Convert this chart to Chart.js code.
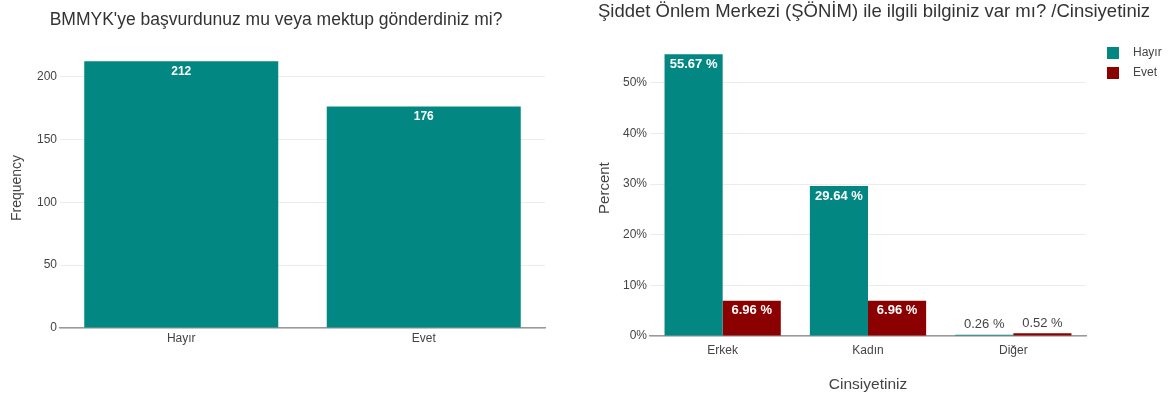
<!DOCTYPE html>
<html>
<head>
<meta charset="utf-8">
<script src="https://cdn.jsdelivr.net/npm/chart.js@4.4.1/dist/chart.umd.min.js"></script>
<style>
  body { margin: 0; background: #fff; }
  #izquierda { position: absolute; left: 0; top: 0; width: 560px; height: 401px; }
  #derecha { position: absolute; left: 580px; top: 0; width: 588px; height: 401px; }
</style>
</head>
<body>
<div id="izquierda"><canvas id="grafica1"></canvas></div>
<div id="derecha"><canvas id="grafica2"></canvas></div>
<script>
// Datos
const respuestas = ["Hayır", "Evet"];
const frecuencias = [212, 176];
const generos = ["Erkek", "Kadın", "Diğer"];
const porcentajeHayir = [55.67, 29.64, 0.26];
const porcentajeEvet = [6.96, 6.96, 0.52];
const ticksFrecuencia = [0, 50, 100, 150, 200];
const ticksPorcentaje = [0, 10, 20, 30, 40, 50];

const FUENTE = '"Liberation Sans", Arial, sans-serif';
const TEAL = "#028783";
const ROJO = "#8B0000";
Chart.defaults.font.family = FUENTE;
Chart.defaults.color = "#444";

// etiquetas de valor dentro / encima de las barras
const etiquetasBarras = {
  id: "etiquetasBarras",
  afterDatasetsDraw(chart, args, opts) {
    const ctx = chart.ctx;
    chart.data.datasets.forEach((ds, i) => {
      chart.getDatasetMeta(i).data.forEach((barra, j) => {
        const valor = ds.data[j];
        const texto = valor.toFixed(opts.decimales) + opts.sufijo;
        const alto = barra.base - barra.y;
        ctx.save();
        ctx.textAlign = "center";
        ctx.textBaseline = "middle";
        if (alto > 22) {
          ctx.fillStyle = "#fff";
          ctx.font = "bold " + opts.tamano + "px " + FUENTE;
          ctx.fillText(texto, barra.x, barra.y + 10);
        } else {
          ctx.fillStyle = "#444";
          ctx.font = opts.tamano + "px " + FUENTE;
          ctx.fillText(texto, barra.x, barra.y - 10);
        }
        ctx.restore();
      });
    });
  },
};

// leyenda a la derecha
const leyendaLateral = {
  id: "leyendaLateral",
  afterDraw(chart) {
    const ctx = chart.ctx;
    const x = chart.chartArea.right + 21;
    chart.data.datasets.forEach((ds, i) => {
      const y = 53 + i * 20;
      ctx.save();
      ctx.fillStyle = ds.backgroundColor;
      ctx.fillRect(x, y - 6, 12, 12);
      ctx.fillStyle = "#444";
      ctx.font = "12px " + FUENTE;
      ctx.textAlign = "left";
      ctx.textBaseline = "middle";
      ctx.fillText(ds.label, x + 26, y);
      ctx.restore();
    });
  },
};

function ejeY(ancho, ticks, titulo, tamTitulo, paddingTitulo, sufijo, maximo) {
  return {
    min: 0,
    max: maximo,
    afterFit(scale) { scale.width = ancho; },
    afterBuildTicks(scale) { scale.ticks = ticks.map((v) => ({ value: v })); },
    border: { display: false },
    grid: { color: "#ececec", drawTicks: false },
    ticks: {
      font: { size: 12 },
      color: "#444",
      padding: 3,
      callback: (v) => v + sufijo,
    },
    title: {
      display: true,
      text: titulo,
      font: { size: tamTitulo },
      color: "#444",
      padding: { top: paddingTitulo, bottom: 0 },
    },
  };
}

function ejeX(alto, padding) {
  return {
    afterFit(scale) { scale.height = alto; },
    grid: { display: false, drawTicks: false },
    border: { display: true, color: "#999", width: 1.5 },
    ticks: { font: { size: 12 }, color: "#444", padding: padding },
  };
}

new Chart(document.getElementById("grafica1"), {
  type: "bar",
  data: {
    labels: respuestas,
    datasets: [{ label: "Frequency", data: frecuencias, backgroundColor: TEAL }],
  },
  options: {
    responsive: true,
    maintainAspectRatio: false,
    animation: false,
    layout: { padding: { left: 7, right: 15, top: 0, bottom: 0 } },
    datasets: { bar: { categoryPercentage: 0.8, barPercentage: 1 } },
    plugins: {
      legend: { display: false },
      tooltip: { enabled: false },
      title: {
        display: true,
        text: "BMMYK'ye başvurdunuz mu veya mektup gönderdiniz mi?",
        font: { size: 17.5, weight: "normal" },
        color: "#333",
        padding: { top: 10, bottom: 17 },
      },
      etiquetasBarras: { decimales: 0, sufijo: "", tamano: 12 },
    },
    scales: {
      x: ejeX(73, 3),
      y: ejeY(53, ticksFrecuencia, "Frequency", 14, 2, "", Math.max(...frecuencias) * 1.05),
    },
  },
  plugins: [etiquetasBarras],
});

new Chart(document.getElementById("grafica2"), {
  type: "bar",
  data: {
    labels: generos,
    datasets: [
      { label: "Hayır", data: porcentajeHayir, backgroundColor: TEAL },
      { label: "Evet", data: porcentajeEvet, backgroundColor: ROJO },
    ],
  },
  options: {
    responsive: true,
    maintainAspectRatio: false,
    animation: false,
    layout: { padding: 0 },
    datasets: { bar: { categoryPercentage: 0.8, barPercentage: 1 } },
    plugins: {
      legend: { display: false },
      tooltip: { enabled: false },
      title: {
        display: true,
        text: "Şiddet Önlem Merkezi (ŞÖNİM) ile ilgili bilginiz var mı? /Cinsiyetiniz",
        font: { size: 18.5, weight: "normal" },
        color: "#333",
        padding: { top: 1, bottom: 17 },
      },
      etiquetasBarras: { decimales: 2, sufijo: " %", tamano: 13 },
    },
    scales: {
      x: Object.assign(ejeX(65, 7), {
        title: {
          display: true,
          text: "Cinsiyetiniz",
          font: { size: 15.5 },
          color: "#444",
          padding: { top: 0, bottom: 7 },
        },
      }),
      y: ejeY(70, ticksPorcentaje, "Percent", 15, 16, "%", Math.max(...porcentajeHayir) * 1.05),
      // espacio reservado para la leyenda
      hueco: {
        position: "right",
        afterFit(scale) { scale.width = 82; },
        ticks: { display: false },
        grid: { display: false, drawTicks: false },
        border: { display: false },
      },
    },
  },
  plugins: [etiquetasBarras, leyendaLateral],
});
</script>
</body>
</html>
